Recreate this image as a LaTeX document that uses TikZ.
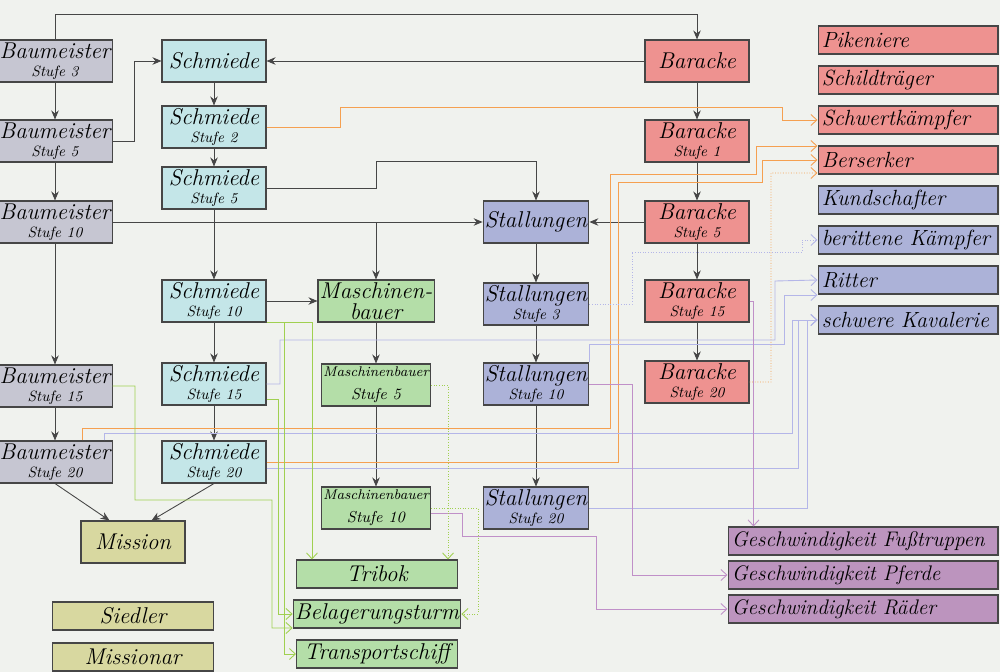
\documentclass[tikz,border=0pt]{standalone}
\usepackage{tikz}
\usetikzlibrary{positioning, arrows.meta}

\definecolor{bgcol}{RGB}{240,242,238}
\definecolor{edgecol}{RGB}{70,70,70}
\definecolor{baucol}{RGB}{198,198,210}
\definecolor{schmcol}{RGB}{196,230,232}
\definecolor{masccol}{RGB}{180,222,168}
\definecolor{stallcol}{RGB}{172,178,216}
\definecolor{barcol}{RGB}{238,146,144}
\definecolor{speedcol}{RGB}{188,148,190}
\definecolor{misscol}{RGB}{216,216,160}
\definecolor{orangeline}{RGB}{245,160,80}
\definecolor{blueline}{RGB}{180,182,232}
\definecolor{purpleline}{RGB}{192,144,200}
\definecolor{greenline}{RGB}{160,208,80}

\newcommand{\stufe}[1]{\\[-4pt]{\fontsize{8.5}{9}\selectfont Stufe #1}}

\begin{document}
\begin{tikzpicture}[x=0.02cm,y=-0.02cm,->,>={Stealth[length=1.8mm,width=1.5mm]},line width=0.5pt]
\tikzstyle{bldg}=[draw=edgecol,line width=0.6pt,minimum width=2.08cm,minimum height=0.84cm,inner sep=1pt,align=center,font=\itshape\fontsize{13}{14}\selectfont]
\tikzstyle{bau}=[bldg,fill=baucol,minimum width=2.2cm]
\tikzstyle{schm}=[bldg,fill=schmcol]
\tikzstyle{masc}=[bldg,fill=masccol,minimum width=2.16cm]
\tikzstyle{stall}=[bldg,fill=stallcol,minimum width=2.06cm]
\tikzstyle{bar}=[bldg,fill=barcol]
\tikzstyle{unit}=[bldg,minimum width=3.6cm,minimum height=0.56cm,text width=3.45cm,inner xsep=0.075cm,align=left,font=\itshape\fontsize{12.5}{14}\selectfont]
\tikzstyle{speed}=[unit,fill=speedcol,minimum width=5.4cm,text width=5.25cm,font=\itshape\fontsize{12}{14}\selectfont]
\tikzstyle{wide}=[bldg,minimum width=3.22cm,minimum height=0.56cm]
\tikzstyle{dep}=[draw=edgecol]
\tikzstyle{ordep}=[orangeline,line width=0.5pt,>={Straight Barb[length=1.2mm,width=2.2mm]}]
\tikzstyle{bldep}=[blueline,line width=0.5pt,>={Straight Barb[length=1.2mm,width=2.2mm]}]
\tikzstyle{pudep}=[purpleline,line width=0.5pt,>={Straight Barb[length=1.2mm,width=2.2mm]}]
\tikzstyle{grdep}=[greenline,line width=0.5pt,>={Straight Barb[length=1.2mm,width=2.2mm]}]

\fill[bgcol] (0,0) rectangle (1000,672);
\useasboundingbox (0,0) rectangle (1000,672);

% Baumeister
\node[bau] (B3) at (55,61) {Baumeister\stufe{3}};
\node[bau] (B5) at (55,141) {Baumeister\stufe{5}};
\node[bau] (B10) at (55,222) {Baumeister\stufe{10}};
\node[bau] (B15) at (55,386) {Baumeister\stufe{15}};
\node[bau] (B20) at (55,462) {Baumeister\stufe{20}};

% Schmiede
\node[schm] (S) at (214,61) {Schmiede};
\node[schm] (S2) at (214,127) {Schmiede\stufe{2}};
\node[schm] (S5) at (214,188) {Schmiede\stufe{5}};
\node[schm] (S10) at (214,301) {Schmiede\stufe{10}};
\node[schm] (S15) at (214,384) {Schmiede\stufe{15}};
\node[schm] (S20) at (214,462) {Schmiede\stufe{20}};

% Maschinenbauer
\node[masc] (MB) at (376,301) {Maschinen-\\[-2pt]bauer};
\node[masc] (MB5) at (376,385) {{\fontsize{8}{9}\selectfont Maschinenbauer}\\[-1pt]{\fontsize{9}{10}\selectfont Stufe 5}};
\node[masc] (MB10) at (376,508) {{\fontsize{8}{9}\selectfont Maschinenbauer}\\[-1pt]{\fontsize{9}{10}\selectfont Stufe 10}};

% Stallungen
\node[stall] (St) at (536,222) {Stallungen};
\node[stall] (St3) at (536,304) {Stallungen\stufe{3}};
\node[stall] (St10) at (536,384) {Stallungen\stufe{10}};
\node[stall] (St20) at (536,508) {Stallungen\stufe{20}};

% Baracke
\node[bar] (Ba) at (697,61) {Baracke};
\node[bar] (Ba1) at (697,141) {Baracke\stufe{1}};
\node[bar] (Ba5) at (697,222) {Baracke\stufe{5}};
\node[bar] (Ba15) at (697,301) {Baracke\stufe{15}};
\node[bar] (Ba20) at (697,382) {Baracke\stufe{20}};

% Einheiten
\node[unit,fill=barcol] (Pik) at (908,40) {Pikeniere};
\node[unit,fill=barcol] (Schild) at (908,80) {Schildträger};
\node[unit,fill=barcol] (Schw) at (908,120) {Schwertkämpfer};
\node[unit,fill=barcol] (Bers) at (908,160) {Berserker};
\node[unit,fill=stallcol] (Kund) at (908,200) {Kundschafter};
\node[unit,fill=stallcol] (Berit) at (908,240) {\mbox{berittene Kämpfer}};
\node[unit,fill=stallcol] (Rit) at (908,280) {Ritter};
\node[unit,fill=stallcol] (Kav) at (908,320) {\mbox{schwere Kavalerie}};

\node[speed] (Fuss) at (863,541) {\mbox{Geschwindigkeit Fußtruppen}};
\node[speed] (Pferd) at (863,575) {\mbox{Geschwindigkeit Pferde}};
\node[speed] (Rad) at (863,609) {\mbox{Geschwindigkeit Räder}};

\node[bldg,fill=misscol] (Miss) at (133,542) {Mission};
\node[wide,fill=misscol] (Sied) at (133,616) {Siedler};
\node[wide,fill=misscol] (Missr) at (133,657) {Missionar};

\node[wide,fill=masccol] (Tri) at (377,574) {Tribok};
\node[wide,fill=masccol] (Bel) at (377,614) {Belagerungsturm};
\node[wide,fill=masccol] (Trans) at (377,654) {Transportschiff};

% Gebaeude-Abhaengigkeiten
\draw[dep] (B3.north) -- ++(0,-25) -| (Ba.north);
\draw[dep] (B3) -- (B5);
\draw[dep] (B5) -- (B10);
\draw[dep] (B10) -- (B15);
\draw[dep] (B15) -- (B20);
\draw[dep] (B5.east) -- ++(22,0) |- (S.west);
\draw[dep] (Ba.west) -- (S.east);
\draw[dep] (S) -- (S2);
\draw[dep] (S2) -- (S5);
\draw[dep] (S5) -- (S10);
\draw[dep] (S10) -- (S15);
\draw[dep] (S15) -- (S20);
\draw[dep] (S5.east) -| (376,161) -| (St.north);
\draw[dep] (B10.east) -- (St.west);
\draw[dep] (B10.east) -| (MB.north);
\draw[dep] (Ba5.west) -- (St.east);
\draw[dep] (S10.east) -- (MB.west);
\draw[dep] (MB) -- (MB5);
\draw[dep] (MB5) -- (MB10);
\draw[dep] (St) -- (St3);
\draw[dep] (St3) -- (St10);
\draw[dep] (St10) -- (St20);
\draw[dep] (Ba) -- (Ba1);
\draw[dep] (Ba1) -- (Ba5);
\draw[dep] (Ba5) -- (Ba15);
\draw[dep] (Ba15) -- (Ba20);
\draw[dep] (B20.south) -- ([xshift=0.58cm]Miss.north west);
\draw[dep] (S20.south) -- ([xshift=-0.68cm]Miss.north east);

% Fusstruppen
\draw[ordep] (S2.east) -| (340,107) -| (782,120) -- (Schw.west);
\draw[ordep] ([xshift=0.54cm]B20.north) |- (610,428) |- (756,174) |- ([yshift=0.28cm]Bers.west);
\draw[ordep] (S20.east) -| (618,182) -| (762,160) -- (Bers.west);
\draw[ordep,densely dotted] (Ba20.east) -| (771,173) -- ([yshift=-0.26cm]Bers.west);

% Reiter
\draw[bldep,densely dotted] (St3.east) -| (632,252) -| (802,240) -- (Berit.west);
\draw[bldep] (S15.east) -| (280,340) -| (775,281) -- (Rit.west);
\draw[bldep] (St10.north east) |- (784,344) |- ([yshift=-0.3cm]Rit.west);
\draw[bldep] ([xshift=0.98cm]B20.north) |- (792,433) |- (Kav.west);
\draw[bldep] ([yshift=-0.12cm]S20.east) -| (798,320) -- (Kav.west);
\draw[bldep] (St20.east) -| (807,320) -- (Kav.west);

% Geschwindigkeit
\draw[pudep] (Ba15.east) -| ([xshift=0.52cm]Fuss.north west);
\draw[pudep] (St10.east) -| (632,575) -- (Pferd.west);
\draw[pudep] ([yshift=-0.1cm]MB10.east) -| (462,536) -| (596,609) -- (Rad.west);

% Belagerung
\draw[grdep] (S10.south east) -| ([xshift=0.32cm]Tri.north west);
\draw[grdep] (S10.south east) -| (284,654) -- (Trans.west);
\draw[grdep,densely dotted] (MB5.east) -| ([xshift=-0.2cm]Tri.north east);
\draw[grdep] ([yshift=-0.3cm]S15.east) -| (278,614) -- (Bel.west);
\draw[grdep] (B15.east) -| (135,500) -| (272,628) -- ([yshift=-0.28cm]Bel.west);
\draw[grdep,densely dotted] (MB10.east) -| (478,614) -- (Bel.east);
\end{tikzpicture}
\end{document}
